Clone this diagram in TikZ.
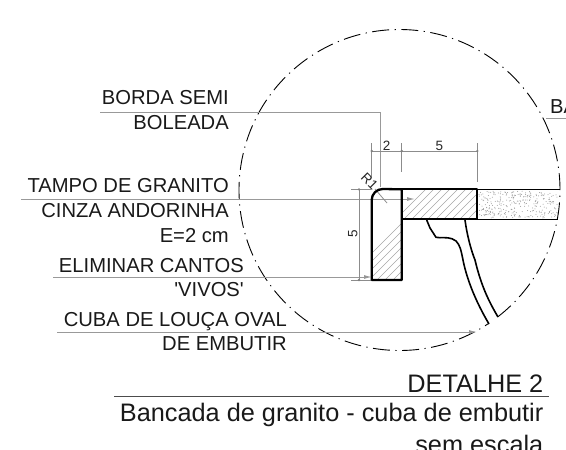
\documentclass[tikz,border=0pt]{standalone}
\usepackage{fontspec}
\newfontfamily\labfont{Liberation Sans}
\usetikzlibrary{arrows.meta}
\pgfmathsetseed{7}
\tikzset{
 lbl/.style={font=\labfont\fontsize{20.2}{22}\selectfont,anchor=base east,inner sep=0pt,text=black!90},
 ttl/.style={font=\labfont\fontsize{25.3}{28}\selectfont,anchor=base east,inner sep=0pt,text=black!90},
 dimt/.style={font=\labfont\fontsize{13.5}{14}\selectfont,inner sep=0pt,text=black!85},
 lead/.style={draw=black!40,line width=1pt},
 dimln/.style={draw=black!45,line width=0.8pt},
 outline/.style={draw=black,line width=2.3pt,line join=round},
 sinkln/.style={draw=black,line width=1.6pt},
 slabln/.style={draw=black,line width=1.2pt},
 hat/.style={draw=black!35,line width=0.6pt},
 arw/.style={-{Latex[length=8pt,width=4pt,fill=black!45]},draw=black!40,line width=1pt},
}
\begin{document}
\begin{tikzpicture}[x=1pt,y=-1pt]
\useasboundingbox (0,0) rectangle (566,450);
\begin{scope}
\clip (0,0) rectangle (566,450);
% hatching
\begin{scope}
\clip (401.7,189.3) -- (477,189.3) -- (477,219.3) -- (401.7,219.3) -- cycle;
\foreach \k in {0,...,14} \draw[hat] (390+\k*8,225) -- ++(45,-45);
\end{scope}
\begin{scope}
\clip (371.7,200) arc[start angle=180,end angle=270,radius=11] -- (401.7,189.3) -- (401.7,280) -- (371.7,280) -- cycle;
\foreach \k in {0,...,16} \draw[hat] (340+\k*8,285) -- ++(100,-100);
\end{scope}
% stipple
\foreach \i in {1,...,300} {
 \pgfmathsetmacro{\px}{479+rnd*79}
 \pgfmathsetmacro{\py}{191+rnd*27}
 \fill[black!40] (\px,\py) circle (0.5pt);
}
% circle, broken where the sink passes
\coordinate (cc) at (399.5,190);
\draw[draw=black,line width=0.9pt,dash pattern=on 17pt off 5.5pt on 1.2pt off 5.5pt]
  ([shift={(52.2:160.5)}]cc) arc[start angle=52.2,end angle=-303.5,radius=160.5];
% leaders
\coordinate (b0) at (100,112.3); \coordinate (b1) at (380,112.3); \coordinate (b2) at (380,187);
\draw[lead] (b0) -- (b1) -- (b2);
\coordinate (t0) at (21,199); \coordinate (t1) at (415,199);
\draw[arw] (t0) -- (t1);
\coordinate (e0) at (53,277); \coordinate (e1) at (372,277);
\draw[arw] (e0) -- (e1);
\coordinate (c0) at (57,332); \coordinate (c1) at (477,332);
\draw[arw] (c0) -- (c1);
% dims
\coordinate (d1) at (371.7,143); \coordinate (d2) at (401.7,143); \coordinate (d3) at (477.3,143);
\draw[dimln] (371.7,151) -- (477.3,151);
\draw[dimln] (d1) -- (371.7,178);
\draw[dimln] (d2) -- (401.7,171.7);
\draw[dimln] (d3) -- (477.3,182);
\foreach \q in {371.7,401.7,477.3} \fill[black!50] (\q,151) circle (1.3pt);
\coordinate (v0) at (351,189.3); \coordinate (v1) at (351,280);
\draw[dimln] (359,189.3) -- (359,280);
\draw[dimln] (v0) -- (371,189.3);
\draw[dimln] (v1) -- (371,280);
\foreach \q in {189.3,280} \fill[black!50] (359,\q) circle (1.3pt);
\draw[dimln] (375,189) -- (387,203);
\node[dimt] (n2) at (386.7,145.7) {2};
\node[dimt] (n5a) at (439.3,145.7) {5};
\node[dimt,rotate=90] (n5b) at (352.7,234) {5};
\node[dimt,rotate=-45] (nr) at (369.5,181.5) {R1};
% sink
\draw[sinkln] (426.7,220) -- (430,228) -- (436,237.3) -- (440,237.7) .. controls (445,237.7) and (451,237) .. (456,241) .. controls (460,245) and (461,250) .. (463,260) .. controls (467,280) and (476,302) .. (489,324);
\draw[sinkln] (465,220) .. controls (467,235) and (471,250) .. (475,260) .. controls (481,285) and (488,300) .. (498,317);
% slab
\draw[slabln] (477,189.5) -- (560,189.5);
\draw[slabln] (477,219.3) -- (558,219.3);
\draw[outline] (401.7,189.3) -- (477,189.3) -- (477,219.3) -- (401.7,219.3);
\draw[outline] (371.7,200) arc[start angle=180,end angle=270,radius=11] -- (401.7,189.3) -- (401.7,280) -- (371.7,280) -- cycle;
% labels
\node[lbl] (l1) at (229,104.3) {BORDA SEMI};
\node[lbl] (l2) at (229,129) {BOLEADA};
\node[lbl] (l3) at (229,192.7) {TAMPO DE GRANITO};
\node[lbl] (l4) at (229,217.7) {CINZA ANDORINHA};
\node[lbl] (l5) at (229,242.7) {E=2 cm};
\node[lbl] (l6) at (244,272) {ELIMINAR CANTOS};
\node[lbl] (l7) at (244,296.7) {'VIVOS'};
\node[lbl] (l8) at (287,326.7) {CUBA DE LOUÇA OVAL};
\node[lbl] (l9) at (287,350) {DE EMBUTIR};
\node[lbl,anchor=base west] (l10) at (550,113.3) {BA};
\coordinate (ba0) at (546,118); \coordinate (ba1) at (566,118);
\draw[lead] (ba0) -- (ba1);
\node[ttl] (tt1) at (543.5,392.5) {DETALHE 2};
\coordinate (r0) at (114,396); \coordinate (r1) at (549,396);
\draw[draw=black!70,line width=1pt] (r0) -- (r1);
\node[ttl] (tt2) at (543.5,421.7) {Bancada de granito - cuba de embutir};
\node[ttl] (tt3) at (543.5,453.5) {sem escala};
\end{scope}
\end{tikzpicture}
\end{document}
